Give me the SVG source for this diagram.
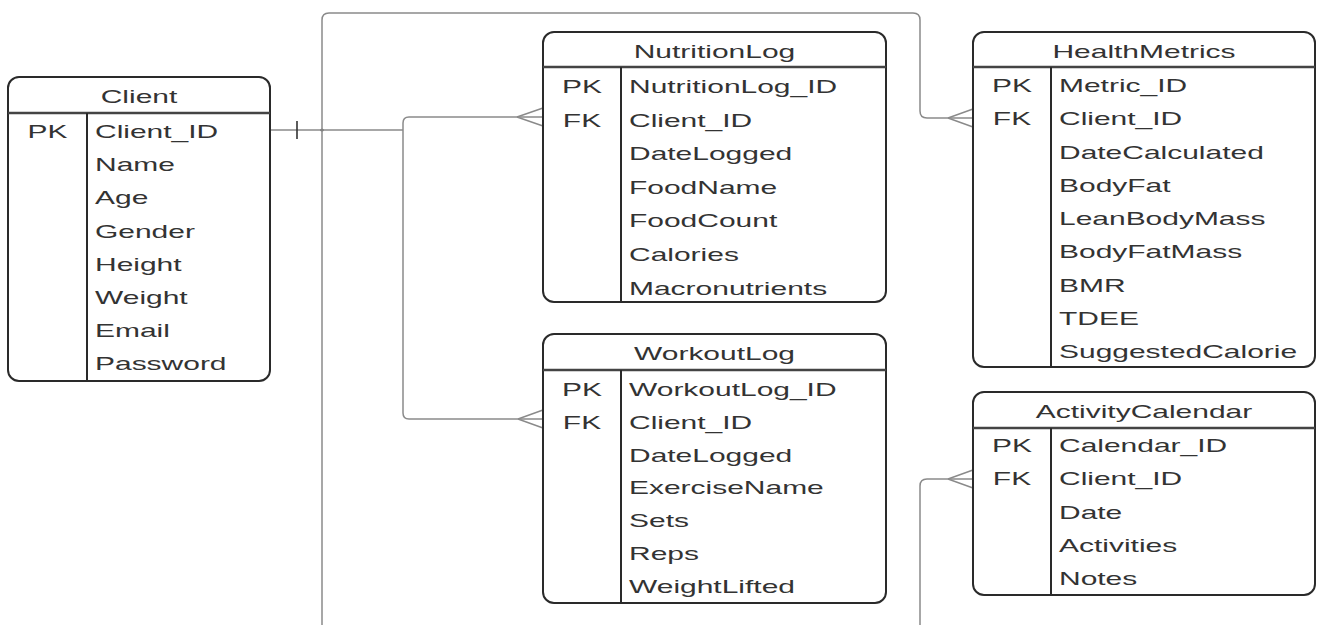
<svg xmlns="http://www.w3.org/2000/svg" width="1317" height="625" viewBox="0 0 1317 625">
  <style>
    .box { fill: #ffffff; stroke: #2a2a2a; stroke-width: 2; }
    .hdr { stroke: #444; stroke-width: 2.4; fill: none; }
    .div { stroke: #2a2a2a; stroke-width: 2; fill: none; }
    .t { font-family: "Liberation Sans", Arial, sans-serif; font-size: 18.5px; fill: #333; }
    .c { text-anchor: middle; }
    .ln { fill: none; stroke: #8a8a8a; stroke-width: 1.5; }
    .crow { fill: none; stroke: #8a8a8a; stroke-width: 1.4; }
    .bar { fill: none; stroke: #333; stroke-width: 1.6; }
  </style>
  <rect width="1317" height="625" fill="#ffffff"/>

  <!-- relationship lines -->
  <g id="connectors">
    <!-- Client one-side -->
    <path class="ln" d="M270,130 H403"/>
    <path class="bar" d="M297,121 V139"/>
    <circle cx="322" cy="130" r="1.6" fill="#666"/>
    <!-- Client to NutritionLog -->
    <path class="ln" d="M403,130 V123 Q403,117 409,117 H543"/>
    <path class="crow" d="M517,117 L543,108 M517,117 L543,126"/>
    <!-- Client to WorkoutLog -->
    <path class="ln" d="M403,130 V413 Q403,419 409,419 H543"/>
    <path class="crow" d="M518,419 L543,410 M518,419 L543,428"/>
    <!-- Client to HealthMetrics (routed over the top) -->
    <path class="ln" d="M322,625 V20 Q322,13 329,13 H913 Q920,13 920,20 V111 Q920,118 927,118 H973"/>
    <path class="crow" d="M948,118 L973,109 M948,118 L973,127"/>
    <!-- Client to ActivityCalendar (routed from below) -->
    <path class="ln" d="M920,625 V486 Q920,479 927,479 H973"/>
    <path class="crow" d="M948,479 L973,470 M948,479 L973,488"/>
  </g>

  <!-- Client -->
  <g id="client">
    <rect class="box" x="8" y="77" width="262" height="304" rx="11"/>
    <path class="hdr" d="M8,113 H270"/>
    <path class="div" d="M87,113 V381"/>
    <text class="t c" transform="translate(139 103) scale(1.62 1)">Client</text>
    <text class="t c" transform="translate(47.5 138) scale(1.62 1)">PK</text>
    <text class="t" transform="translate(95 138) scale(1.62 1)">Client_ID</text>
    <text class="t" transform="translate(95 171.2) scale(1.62 1)">Name</text>
    <text class="t" transform="translate(95 204.4) scale(1.62 1)">Age</text>
    <text class="t" transform="translate(95 237.6) scale(1.62 1)">Gender</text>
    <text class="t" transform="translate(95 270.8) scale(1.62 1)">Height</text>
    <text class="t" transform="translate(95 304) scale(1.62 1)">Weight</text>
    <text class="t" transform="translate(95 337.2) scale(1.62 1)">Email</text>
    <text class="t" transform="translate(95 370.4) scale(1.62 1)">Password</text>
  </g>

  <!-- NutritionLog -->
  <g id="nutritionlog">
    <rect class="box" x="543" y="32" width="343" height="270" rx="11"/>
    <path class="hdr" d="M543,67 H886"/>
    <path class="div" d="M621,67 V302"/>
    <text class="t c" transform="translate(714.5 58) scale(1.62 1)">NutritionLog</text>
    <text class="t c" transform="translate(582 93) scale(1.62 1)">PK</text>
    <text class="t c" transform="translate(582 126.6) scale(1.62 1)">FK</text>
    <text class="t" transform="translate(629 93) scale(1.62 1)">NutritionLog_ID</text>
    <text class="t" transform="translate(629 126.6) scale(1.62 1)">Client_ID</text>
    <text class="t" transform="translate(629 160.2) scale(1.62 1)">DateLogged</text>
    <text class="t" transform="translate(629 193.8) scale(1.62 1)">FoodName</text>
    <text class="t" transform="translate(629 227.4) scale(1.62 1)">FoodCount</text>
    <text class="t" transform="translate(629 261) scale(1.62 1)">Calories</text>
    <text class="t" transform="translate(629 294.6) scale(1.62 1)">Macronutrients</text>
  </g>

  <!-- WorkoutLog -->
  <g id="workoutlog">
    <rect class="box" x="543" y="334" width="343" height="269" rx="11"/>
    <path class="hdr" d="M543,370 H886"/>
    <path class="div" d="M621,370 V603"/>
    <text class="t c" transform="translate(714.5 360) scale(1.62 1)">WorkoutLog</text>
    <text class="t c" transform="translate(582 396) scale(1.62 1)">PK</text>
    <text class="t c" transform="translate(582 428.8) scale(1.62 1)">FK</text>
    <text class="t" transform="translate(629 396) scale(1.62 1)">WorkoutLog_ID</text>
    <text class="t" transform="translate(629 428.8) scale(1.62 1)">Client_ID</text>
    <text class="t" transform="translate(629 461.6) scale(1.62 1)">DateLogged</text>
    <text class="t" transform="translate(629 494.4) scale(1.62 1)">ExerciseName</text>
    <text class="t" transform="translate(629 527.2) scale(1.62 1)">Sets</text>
    <text class="t" transform="translate(629 560) scale(1.62 1)">Reps</text>
    <text class="t" transform="translate(629 592.8) scale(1.62 1)">WeightLifted</text>
  </g>

  <!-- HealthMetrics -->
  <g id="healthmetrics">
    <rect class="box" x="973" y="32" width="342" height="335" rx="11"/>
    <path class="hdr" d="M973,67 H1315"/>
    <path class="div" d="M1051,67 V367"/>
    <text class="t c" transform="translate(1144 58) scale(1.62 1)">HealthMetrics</text>
    <text class="t c" transform="translate(1012 92) scale(1.62 1)">PK</text>
    <text class="t c" transform="translate(1012 125.2) scale(1.62 1)">FK</text>
    <text class="t" transform="translate(1059 92) scale(1.62 1)">Metric_ID</text>
    <text class="t" transform="translate(1059 125.2) scale(1.62 1)">Client_ID</text>
    <text class="t" transform="translate(1059 158.5) scale(1.62 1)">DateCalculated</text>
    <text class="t" transform="translate(1059 191.7) scale(1.62 1)">BodyFat</text>
    <text class="t" transform="translate(1059 225) scale(1.62 1)">LeanBodyMass</text>
    <text class="t" transform="translate(1059 258.2) scale(1.62 1)">BodyFatMass</text>
    <text class="t" transform="translate(1059 291.5) scale(1.62 1)">BMR</text>
    <text class="t" transform="translate(1059 324.7) scale(1.62 1)">TDEE</text>
    <text class="t" transform="translate(1059 358) scale(1.62 1)">SuggestedCalorie</text>
  </g>

  <!-- ActivityCalendar -->
  <g id="activitycalendar">
    <rect class="box" x="973" y="392" width="342" height="203" rx="11"/>
    <path class="hdr" d="M973,428 H1315"/>
    <path class="div" d="M1051,428 V595"/>
    <text class="t c" transform="translate(1144 418) scale(1.62 1)">ActivityCalendar</text>
    <text class="t c" transform="translate(1012 452) scale(1.62 1)">PK</text>
    <text class="t c" transform="translate(1012 485.2) scale(1.62 1)">FK</text>
    <text class="t" transform="translate(1059 452) scale(1.62 1)">Calendar_ID</text>
    <text class="t" transform="translate(1059 485.2) scale(1.62 1)">Client_ID</text>
    <text class="t" transform="translate(1059 518.5) scale(1.62 1)">Date</text>
    <text class="t" transform="translate(1059 551.7) scale(1.62 1)">Activities</text>
    <text class="t" transform="translate(1059 585) scale(1.62 1)">Notes</text>
  </g>
</svg>
